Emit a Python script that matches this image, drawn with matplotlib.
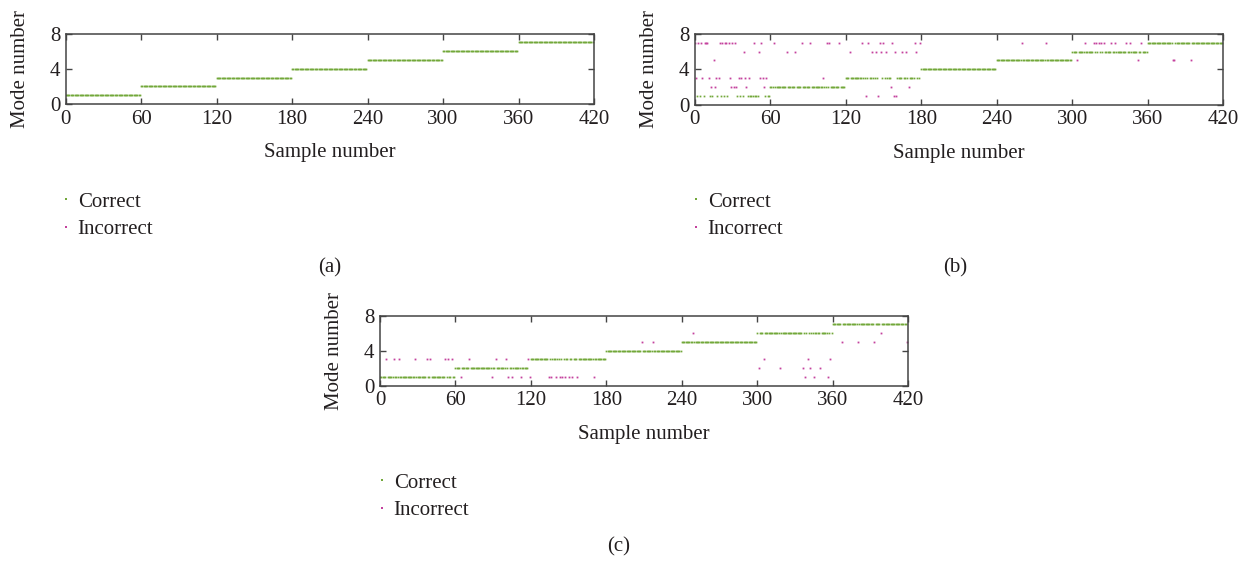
import numpy as np
import matplotlib
matplotlib.use("Agg")
import matplotlib.pyplot as plt

plt.rcParams['font.family'] = ['Liberation Serif', 'DejaVu Serif']
plt.rcParams['font.size'] = 15

# true mode of each sample: 7 modes, 60 samples each
modes = [1, 2, 3, 4, 5, 6, 7]
samples_per_mode = 60

# misclassified samples (index, predicted mode)
a_wrong_idx = []
a_wrong_mode = []

b_wrong_idx = [0, 1, 3, 5, 6, 8, 9, 10, 11, 13, 15, 16, 17, 19, 20, 22, 24, 25, 27, 28,
               29, 30, 31, 32, 33, 35, 37, 39, 40, 41, 43, 47, 51, 52, 53, 54, 55, 57,
               63, 73, 80, 85, 92, 102, 105, 107, 115,
               123, 133, 136, 138, 141, 144, 146, 147, 148, 150, 152, 156, 157, 158, 159,
               160, 165, 168, 170, 175, 176, 179,
               260, 279,
               304, 310, 317, 319, 321, 323, 325, 331, 334, 343, 346, 352, 355,
               380, 381, 394]
b_wrong_mode = [7, 3, 7, 7, 3, 7, 7, 7, 3, 2, 5, 2, 3, 3, 7, 7, 7, 7, 7, 3,
                2, 7, 2, 7, 2, 3, 3, 6, 3, 2, 3, 7, 6, 3, 7, 3, 2, 3,
                7, 6, 6, 7, 7, 3, 7, 7, 7,
                6, 7, 1, 7, 6, 6, 1, 7, 6, 7, 6, 2, 7, 1, 6,
                1, 6, 6, 2, 7, 6, 7,
                7, 7,
                5, 7, 7, 7, 7, 7, 7, 7, 7, 7, 7, 5, 7,
                5, 5, 5]

c_wrong_idx = [5, 11, 15, 28, 37, 40, 52, 54, 57,
               64, 71, 89, 92, 100, 102, 105, 112, 118, 119,
               134, 136, 140, 143, 145, 147, 150, 153, 157, 170,
               208, 217,
               249,
               301, 305, 318, 336, 338, 340, 342, 345, 350, 356, 358,
               367, 380, 393, 398, 419]
c_wrong_mode = [3, 3, 3, 3, 3, 3, 3, 3, 3,
                1, 3, 1, 3, 3, 1, 1, 1, 3, 1,
                1, 1, 1, 1, 1, 1, 1, 1, 1, 1,
                5, 5,
                6,
                2, 3, 2, 2, 1, 3, 2, 1, 2, 1, 3,
                5, 5, 5, 6, 5]

green = '#72a83a'
magenta = '#c4429e'
ink = '#231f20'

true_mode = np.repeat(modes, samples_per_mode)
samples = np.arange(len(true_mode))

W, H = 1253, 561
fig = plt.figure(figsize=(W / 100, H / 100), dpi=100)


def panel(rect, wrong_idx, wrong_mode, legend_xy, tag, tag_xy):
    ax = fig.add_axes(rect)
    ok = np.ones(len(samples), dtype=bool)
    ok[wrong_idx] = False
    ax.plot(samples[ok], true_mode[ok], ls='none', marker='s', ms=1.25,
            mew=0, color=green, label='Correct')
    ax.plot(wrong_idx, wrong_mode, ls='none', marker='s', ms=1.3,
            mew=0, color=magenta, label='Incorrect')
    ax.set_xlim(0, 420)
    ax.set_ylim(0, 8)
    ax.set_xticks(range(0, 421, 60))
    ax.set_yticks([0, 4, 8])
    ax.tick_params(direction='in', top=True, right=True, length=4.5,
                   width=1, color='#444444', labelcolor=ink, pad=4)
    for s in ax.spines.values():
        s.set_color('#444444')
        s.set_linewidth(1.1)
    ax.set_xlabel('Sample number', color=ink, va='center')
    ax.xaxis.set_label_coords(0.5, -0.69)
    ax.set_ylabel('Mode number', color=ink, va='center')
    ax.yaxis.set_label_coords(-0.086, 0.5)
    ax.legend(loc='upper left', bbox_to_anchor=legend_xy,
              bbox_transform=fig.transFigure, frameon=False,
              handlelength=0.5, handletextpad=0.3, borderpad=0,
              borderaxespad=0, labelspacing=0.38, markerscale=1.4,
              labelcolor=ink)
    fig.text(tag_xy[0], tag_xy[1], tag, ha='center', va='center', color=ink)
    return ax


panel([65.7 / W, 1 - 104 / H, 528.3 / W, 70.3 / H], a_wrong_idx, a_wrong_mode,
      (61 / W, 1 - 192 / H), '(a)', (330 / W, 1 - 268 / H))
panel([694.7 / W, 1 - 104.5 / H, 528.6 / W, 70.5 / H], b_wrong_idx, b_wrong_mode,
      (691 / W, 1 - 192 / H), '(b)', (955 / W, 1 - 268 / H))
panel([380 / W, 1 - 385.7 / H, 528.3 / W, 70 / H], c_wrong_idx, c_wrong_mode,
      (377 / W, 1 - 473 / H), '(c)', (619 / W, 1 - 547 / H))

fig.savefig('out.png', dpi=100)
